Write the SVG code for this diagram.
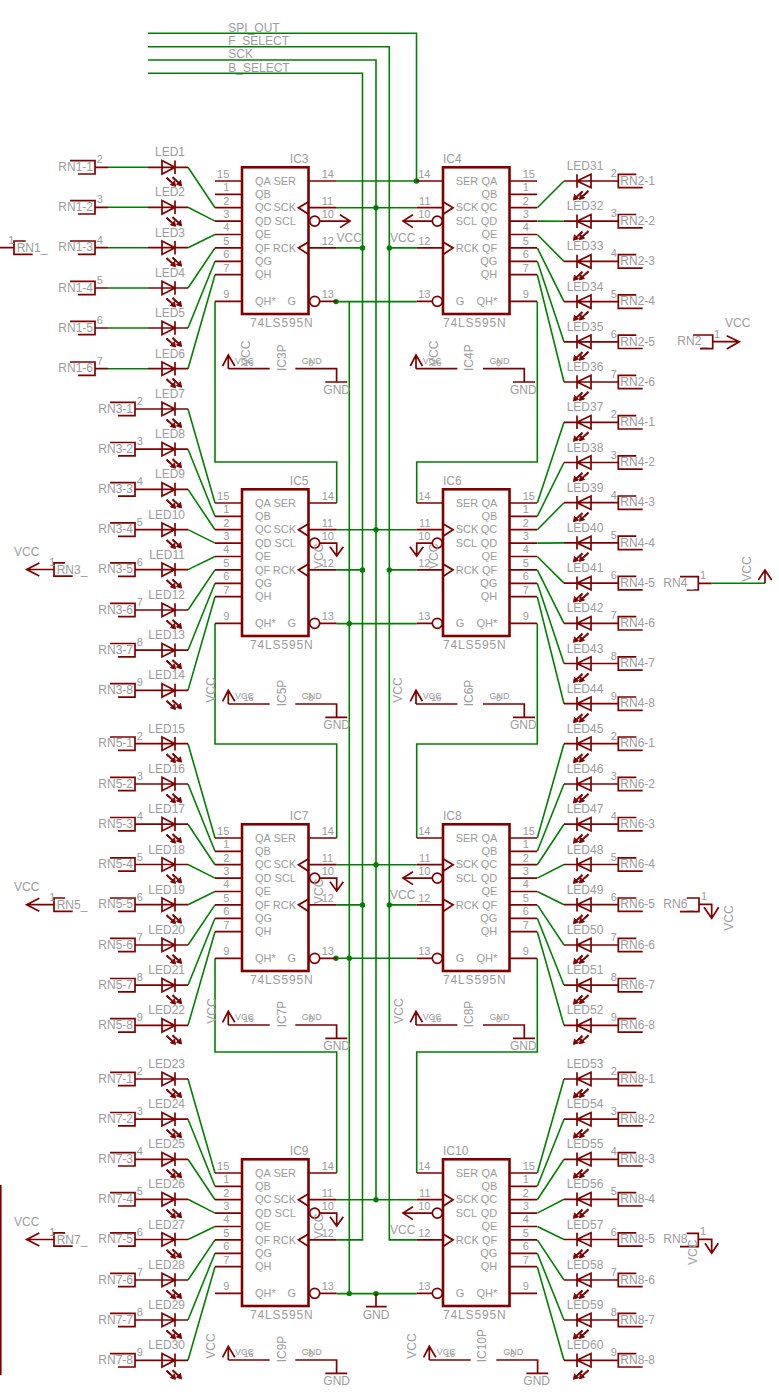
<svg xmlns="http://www.w3.org/2000/svg" width="779" height="1394" viewBox="0 0 779 1394">
<style>
text{font-family:"Liberation Sans",Arial,sans-serif;font-size:12px;fill:#9c9c9c}
.p{font-size:11px}
.e{text-anchor:end}
.n{letter-spacing:.85px}
.s{font-size:9px}
.r path,.r circle,.r rect{fill:none;stroke:#800000;stroke-width:1.7}
path.b,rect.b{stroke-width:2.6}
.g{fill:none;stroke:#008000;stroke-width:1.6}
.d{fill:#008000}
.f{fill:#800000!important;stroke-width:1!important}
</style>
<defs>
<g id="ledL" class="r"><path d="M148 0H188M162-6.700L175 0L162 6.700ZM175-6.700V6.700"/><path class="f" d="M167 10L173 15.500L174.500 13.500L175.500 19L170.500 17.500L172 16L166.500 11.500ZM173 9.500L179 15L180.500 13L181.500 18.500L176.500 17L178 15.500L172.500 11Z"/></g>
<g id="ledR" class="r"><path d="M564 0H591M591-6.700L577 0L591 6.700ZM577-6.700V6.700"/><path class="f" d="M582 10L576 15.500L574.500 13.500L573.500 19L578.500 17.500L577 16L582.500 11.500ZM588 9.500L582 15L580.500 13L579.500 18.500L584.500 17L583 15.500L588.500 11Z"/></g>
<g id="cL" class="r"><path d="M-25-6.700H0V6.700H-17M0 0H13"/></g>
<g id="cR" class="r"><path d="M18-6.700H0V6.700H24.400M0 0H-27.300"/></g>
<g id="icL" class="r"><rect class="b" x="0" y="0" width="66.500" height="146.700"/><path d="M-27 13.700H0M-27 27H0M-27 40.400H0M-27 53.800H0M-27 67.200H0M-27 80.600H0M-27 94H0M-27 107.400H0M-27 134H0M66.500 13.700H94.700M66.500 40.400H94.700M66.500 80.600H94.700M77.700 134H94.700"/><path class="b" d="M66.500 34.400L56.500 40.400L66.500 47M66.500 74.600L56.500 80.600L66.500 87.200" style="stroke-width:1.8"/><circle cx="72.700" cy="53.800" r="5"/><circle cx="72.700" cy="134" r="5"/></g>
<g id="icR" class="r"><rect class="b" x="0" y="0" width="66.500" height="146.700"/><path d="M66.500 13.700H94M66.500 27H94M66.500 40.400H94M66.500 53.800H94M66.500 67.200H94M66.500 80.600H94M66.500 94H94M66.500 107.400H94M66.500 134H94M-26.300 13.700H0M-26.300 40.400H0M-26.300 80.600H0M-26.300 134H-10.700"/><path class="b" d="M0 34.400L10 40.400L0 47M0 74.600L10 80.600L0 87.200" style="stroke-width:1.8"/><circle cx="-5.700" cy="53.800" r="5"/><circle cx="-5.700" cy="134" r="5"/></g>
<g id="pw" class="r"><path d="M0 0V-13.700M-5.700-2.700L0-13.700L6.500-2.700M0 0H41.400M67 0H108.300V13.300M97 13.300H119"/></g>
</defs>
<rect x="0" y="1185" width="1.600" height="190" fill="#800000"/>
<g id="connectors">
<path class="g" d="M148 33.300H416.500V181M336.700 181H416.500M148 46.700H389.300V1239.900H416.700M148 60H376V1199.700M148 73.300H362.500V1239.900H336.700M336.700 207.700H416.700M336.700 247.900H362.500M389.300 247.900H416.700M336.700 301.600H416.700M349.300 301.600V1293.600M336.700 529.700H416.700M336.700 569.900H362.500M389.300 569.900H416.700M336.700 623.600H416.700M336.700 864.700H416.700M336.700 904.900H362.500M389.300 904.900H416.700M336.700 958.300H416.700M336.700 1199.700H416.700M336.700 1293.600H416.700M215 301.600V462H336.700V503M537.300 301.600V462H416.700V503M215 623.600V744H336.700V838M537.300 623.600V744H416.700V838M215 958.300V1052H336.700V1173M537.300 958.300V1052H416.700V1173"/>
<path class="g" d="M108 167.300H148M108 207.300H148M108 247.700H148M108 288H148M108 328H148M108 368.700H148"/>
<path class="g" d="M188 167.300L215 207.700M188 207.300L215 221.100M188 247.700L215 234.500M188 288L215 247.900M188 328L215 261.300M188 368.700L215 274.700"/>
<path class="g" d="M188 409L215 503M188 449.200L215 516.300M188 489.400L215 529.700M188 529.600L215 543.100M188 569.600L215 556.500M188 610L215 569.900M188 650.200L215 583.300M188 690.400L215 596.700"/>
<path class="g" d="M188 743.700L215 838M188 784L215 851.300M188 824.200L215 864.700M188 864.500L215 878.100M188 904.700L215 891.500M188 945L215 904.900M188 985.200L215 918.300M188 1025.400L215 931.700"/>
<path class="g" d="M188 1079L215 1173M188 1119.200L215 1186.300M188 1159.300L215 1199.700M188 1199.300L215 1213.100M188 1239.500L215 1226.500M188 1280L215 1239.900M188 1320L215 1253.300M188 1360.300L215 1266.700"/>
<path class="g" d="M537.300 207.700L564 181M537.300 221.100L564 221.200M537.300 234.500L564 261.400M537.300 247.900L564 301.600M537.300 261.300L564 341.800M537.300 274.700L564 382"/>
<path class="g" d="M537.300 503L564 422.300M537.300 516.300L564 462.500M537.300 529.700L564 502.700M537.300 543.100L564 542.900M537.300 556.500L564 583.100M537.300 569.900L564 623.300M537.300 583.300L564 663.500M537.300 596.700L564 703.700"/>
<path class="g" d="M537.300 838L564 743.700M537.300 851.300L564 784M537.300 864.700L564 824.200M537.300 878.100L564 864.500M537.300 891.500L564 904.700M537.300 904.900L564 945M537.300 918.300L564 985.200M537.300 931.700L564 1025.400"/>
<path class="g" d="M537.300 1173L564 1079M537.300 1186.300L564 1119.200M537.300 1199.700L564 1159.300M537.300 1213.100L564 1199.300M537.300 1226.500L564 1239.500M537.300 1239.900L564 1280M537.300 1253.300L564 1320M537.300 1266.700L564 1360.300"/>
<path class="g" d="M711.700 583.300H765"/>
<g class="d"><circle cx="416.500" cy="181" r="2.700"/><circle cx="376" cy="207.700" r="2.700"/><circle cx="362.500" cy="247.900" r="2.700"/><circle cx="389.300" cy="247.900" r="2.700"/><circle cx="336" cy="301.600" r="2.700"/><circle cx="376" cy="529.700" r="2.700"/><circle cx="362.500" cy="569.900" r="2.700"/><circle cx="389.300" cy="569.900" r="2.700"/><circle cx="349.300" cy="623.600" r="2.700"/><circle cx="376" cy="864.700" r="2.700"/><circle cx="362.500" cy="904.900" r="2.700"/><circle cx="389.300" cy="904.900" r="2.700"/><circle cx="336" cy="958.300" r="2.700"/><circle cx="349.300" cy="958.300" r="2.700"/><circle cx="376" cy="1199.700" r="2.700"/><circle cx="349.300" cy="1293.600" r="2.700"/><circle cx="376" cy="1293.600" r="2.700"/></g>
<text x="228.300" y="31.700">SPI_OUT</text>
<text x="228.300" y="45">F_SELECT</text>
<text x="228.300" y="58.300">SCK</text>
<text x="228.300" y="72.300">B_SELECT</text>
</g>
<g id="IC3" transform="translate(242,167.300)"><use href="#icL"/><g class="r"><path d="M77.700 53.800H108M98 47.500L108 53.800L98 60.300"/></g><text x="94.500" y="74.400">VCC</text><text class="p" x="13" y="17.400">QA</text><text class="p" x="13" y="30.700">QB</text><text class="p" x="13" y="44.100">QC</text><text class="p" x="13" y="57.500">QD</text><text class="p" x="13" y="70.900">QE</text><text class="p" x="13" y="84.300">QF</text><text class="p" x="13" y="97.700">QG</text><text class="p" x="13" y="111.100">QH</text><text class="p" x="13" y="137.700">QH*</text><g class="e"><text class="p" x="54" y="17.400">SER</text><text class="p" x="54" y="44.100">SCK</text><text class="p" x="54" y="57.500">SCL</text><text class="p" x="54" y="84.300">RCK</text><text class="p" x="54" y="137.700">G</text><text class="p" x="-12.700" y="10.700">15</text><text class="p" x="-12.700" y="24">1</text><text class="p" x="-12.700" y="37.400">2</text><text class="p" x="-12.700" y="50.800">3</text><text class="p" x="-12.700" y="64.200">4</text><text class="p" x="-12.700" y="77.600">5</text><text class="p" x="-12.700" y="91">6</text><text class="p" x="-12.700" y="104.400">7</text><text class="p" x="-12.700" y="131">9</text><text x="66.500" y="-4.300">IC3</text></g><text class="p" x="79.700" y="10.700">14</text><text class="p" x="79.700" y="37.400">11</text><text class="p" x="79.700" y="50.800">10</text><text class="p" x="79.700" y="77.600">12</text><text class="p" x="79.700" y="131">13</text><text class="n" x="8" y="159.700">74LS595N</text></g>
<g id="IC5" transform="translate(242,489.300)"><use href="#icL"/><g class="r"><path d="M77.700 53.800H94.700V66.700M88 57.400L94.700 66.700L101.300 57.400"/></g><text transform="translate(81,79.700) rotate(-90)">VCC</text><text class="p" x="13" y="17.400">QA</text><text class="p" x="13" y="30.700">QB</text><text class="p" x="13" y="44.100">QC</text><text class="p" x="13" y="57.500">QD</text><text class="p" x="13" y="70.900">QE</text><text class="p" x="13" y="84.300">QF</text><text class="p" x="13" y="97.700">QG</text><text class="p" x="13" y="111.100">QH</text><text class="p" x="13" y="137.700">QH*</text><g class="e"><text class="p" x="54" y="17.400">SER</text><text class="p" x="54" y="44.100">SCK</text><text class="p" x="54" y="57.500">SCL</text><text class="p" x="54" y="84.300">RCK</text><text class="p" x="54" y="137.700">G</text><text class="p" x="-12.700" y="10.700">15</text><text class="p" x="-12.700" y="24">1</text><text class="p" x="-12.700" y="37.400">2</text><text class="p" x="-12.700" y="50.800">3</text><text class="p" x="-12.700" y="64.200">4</text><text class="p" x="-12.700" y="77.600">5</text><text class="p" x="-12.700" y="91">6</text><text class="p" x="-12.700" y="104.400">7</text><text class="p" x="-12.700" y="131">9</text><text x="66.500" y="-4.300">IC5</text></g><text class="p" x="79.700" y="10.700">14</text><text class="p" x="79.700" y="37.400">11</text><text class="p" x="79.700" y="50.800">10</text><text class="p" x="79.700" y="77.600">12</text><text class="p" x="79.700" y="131">13</text><text class="n" x="8" y="159.700">74LS595N</text></g>
<g id="IC7" transform="translate(242,824.300)"><use href="#icL"/><g class="r"><path d="M77.700 53.800H94.700V66.700M88 57.400L94.700 66.700L101.300 57.400"/></g><text transform="translate(81,79.700) rotate(-90)">VCC</text><text class="p" x="13" y="17.400">QA</text><text class="p" x="13" y="30.700">QB</text><text class="p" x="13" y="44.100">QC</text><text class="p" x="13" y="57.500">QD</text><text class="p" x="13" y="70.900">QE</text><text class="p" x="13" y="84.300">QF</text><text class="p" x="13" y="97.700">QG</text><text class="p" x="13" y="111.100">QH</text><text class="p" x="13" y="137.700">QH*</text><g class="e"><text class="p" x="54" y="17.400">SER</text><text class="p" x="54" y="44.100">SCK</text><text class="p" x="54" y="57.500">SCL</text><text class="p" x="54" y="84.300">RCK</text><text class="p" x="54" y="137.700">G</text><text class="p" x="-12.700" y="10.700">15</text><text class="p" x="-12.700" y="24">1</text><text class="p" x="-12.700" y="37.400">2</text><text class="p" x="-12.700" y="50.800">3</text><text class="p" x="-12.700" y="64.200">4</text><text class="p" x="-12.700" y="77.600">5</text><text class="p" x="-12.700" y="91">6</text><text class="p" x="-12.700" y="104.400">7</text><text class="p" x="-12.700" y="131">9</text><text x="66.500" y="-4.300">IC7</text></g><text class="p" x="79.700" y="10.700">14</text><text class="p" x="79.700" y="37.400">11</text><text class="p" x="79.700" y="50.800">10</text><text class="p" x="79.700" y="77.600">12</text><text class="p" x="79.700" y="131">13</text><text class="n" x="8" y="159.700">74LS595N</text></g>
<g id="IC9" transform="translate(242,1159.300)"><use href="#icL"/><g class="r"><path d="M77.700 53.800H94.700V66.700M88 57.400L94.700 66.700L101.300 57.400"/></g><text transform="translate(81,79.700) rotate(-90)">VCC</text><text class="p" x="13" y="17.400">QA</text><text class="p" x="13" y="30.700">QB</text><text class="p" x="13" y="44.100">QC</text><text class="p" x="13" y="57.500">QD</text><text class="p" x="13" y="70.900">QE</text><text class="p" x="13" y="84.300">QF</text><text class="p" x="13" y="97.700">QG</text><text class="p" x="13" y="111.100">QH</text><text class="p" x="13" y="137.700">QH*</text><g class="e"><text class="p" x="54" y="17.400">SER</text><text class="p" x="54" y="44.100">SCK</text><text class="p" x="54" y="57.500">SCL</text><text class="p" x="54" y="84.300">RCK</text><text class="p" x="54" y="137.700">G</text><text class="p" x="-12.700" y="10.700">15</text><text class="p" x="-12.700" y="24">1</text><text class="p" x="-12.700" y="37.400">2</text><text class="p" x="-12.700" y="50.800">3</text><text class="p" x="-12.700" y="64.200">4</text><text class="p" x="-12.700" y="77.600">5</text><text class="p" x="-12.700" y="91">6</text><text class="p" x="-12.700" y="104.400">7</text><text class="p" x="-12.700" y="131">9</text><text x="66.500" y="-4.300">IC9</text></g><text class="p" x="79.700" y="10.700">14</text><text class="p" x="79.700" y="37.400">11</text><text class="p" x="79.700" y="50.800">10</text><text class="p" x="79.700" y="77.600">12</text><text class="p" x="79.700" y="131">13</text><text class="n" x="8" y="159.700">74LS595N</text></g>
<g id="IC4" transform="translate(443,167.300)"><use href="#icR"/><g class="r"><path d="M-10.700 53.800H-40M-30 47.500L-40 53.800L-30 60.300"/></g><text x="-53" y="75">VCC</text><text class="p" x="12.700" y="17.400">SER</text><text class="p" x="12.700" y="44.100">SCK</text><text class="p" x="12.700" y="57.500">SCL</text><text class="p" x="12.700" y="84.300">RCK</text><text class="p" x="12.700" y="137.700">G</text><g class="e"><text class="p" x="54.300" y="17.400">QA</text><text class="p" x="54.300" y="30.700">QB</text><text class="p" x="54.300" y="44.100">QC</text><text class="p" x="54.300" y="57.500">QD</text><text class="p" x="54.300" y="70.900">QE</text><text class="p" x="54.300" y="84.300">QF</text><text class="p" x="54.300" y="97.700">QG</text><text class="p" x="54.300" y="111.100">QH</text><text class="p" x="54.300" y="137.700">QH*</text><text class="p" x="-12.500" y="10.700">14</text><text class="p" x="-12.500" y="37.400">11</text><text class="p" x="-12.500" y="50.800">10</text><text class="p" x="-12.500" y="77.600">12</text><text class="p" x="-12.500" y="131">13</text></g><text class="p" x="79.700" y="10.700">15</text><text class="p" x="79.700" y="24">1</text><text class="p" x="79.700" y="37.400">2</text><text class="p" x="79.700" y="50.800">3</text><text class="p" x="79.700" y="64.200">4</text><text class="p" x="79.700" y="77.600">5</text><text class="p" x="79.700" y="91">6</text><text class="p" x="79.700" y="104.400">7</text><text class="p" x="79.700" y="131">9</text><text x="0" y="-4.300">IC4</text><text class="n" x="0" y="159.700">74LS595N</text></g>
<g id="IC6" transform="translate(443,489.300)"><use href="#icR"/><g class="r"><path d="M-10.700 53.800H-26.300V66.700M-33 57.400L-26.300 66.700L-19.700 57.400"/></g><text transform="translate(-5,79.700) rotate(-90)">VCC</text><text class="p" x="12.700" y="17.400">SER</text><text class="p" x="12.700" y="44.100">SCK</text><text class="p" x="12.700" y="57.500">SCL</text><text class="p" x="12.700" y="84.300">RCK</text><text class="p" x="12.700" y="137.700">G</text><g class="e"><text class="p" x="54.300" y="17.400">QA</text><text class="p" x="54.300" y="30.700">QB</text><text class="p" x="54.300" y="44.100">QC</text><text class="p" x="54.300" y="57.500">QD</text><text class="p" x="54.300" y="70.900">QE</text><text class="p" x="54.300" y="84.300">QF</text><text class="p" x="54.300" y="97.700">QG</text><text class="p" x="54.300" y="111.100">QH</text><text class="p" x="54.300" y="137.700">QH*</text><text class="p" x="-12.500" y="10.700">14</text><text class="p" x="-12.500" y="37.400">11</text><text class="p" x="-12.500" y="50.800">10</text><text class="p" x="-12.500" y="77.600">12</text><text class="p" x="-12.500" y="131">13</text></g><text class="p" x="79.700" y="10.700">15</text><text class="p" x="79.700" y="24">1</text><text class="p" x="79.700" y="37.400">2</text><text class="p" x="79.700" y="50.800">3</text><text class="p" x="79.700" y="64.200">4</text><text class="p" x="79.700" y="77.600">5</text><text class="p" x="79.700" y="91">6</text><text class="p" x="79.700" y="104.400">7</text><text class="p" x="79.700" y="131">9</text><text x="0" y="-4.300">IC6</text><text class="n" x="0" y="159.700">74LS595N</text></g>
<g id="IC8" transform="translate(443,824.300)"><use href="#icR"/><g class="r"><path d="M-10.700 53.800H-40M-30 47.500L-40 53.800L-30 60.300"/></g><text x="-53" y="75">VCC</text><text class="p" x="12.700" y="17.400">SER</text><text class="p" x="12.700" y="44.100">SCK</text><text class="p" x="12.700" y="57.500">SCL</text><text class="p" x="12.700" y="84.300">RCK</text><text class="p" x="12.700" y="137.700">G</text><g class="e"><text class="p" x="54.300" y="17.400">QA</text><text class="p" x="54.300" y="30.700">QB</text><text class="p" x="54.300" y="44.100">QC</text><text class="p" x="54.300" y="57.500">QD</text><text class="p" x="54.300" y="70.900">QE</text><text class="p" x="54.300" y="84.300">QF</text><text class="p" x="54.300" y="97.700">QG</text><text class="p" x="54.300" y="111.100">QH</text><text class="p" x="54.300" y="137.700">QH*</text><text class="p" x="-12.500" y="10.700">14</text><text class="p" x="-12.500" y="37.400">11</text><text class="p" x="-12.500" y="50.800">10</text><text class="p" x="-12.500" y="77.600">12</text><text class="p" x="-12.500" y="131">13</text></g><text class="p" x="79.700" y="10.700">15</text><text class="p" x="79.700" y="24">1</text><text class="p" x="79.700" y="37.400">2</text><text class="p" x="79.700" y="50.800">3</text><text class="p" x="79.700" y="64.200">4</text><text class="p" x="79.700" y="77.600">5</text><text class="p" x="79.700" y="91">6</text><text class="p" x="79.700" y="104.400">7</text><text class="p" x="79.700" y="131">9</text><text x="0" y="-4.300">IC8</text><text class="n" x="0" y="159.700">74LS595N</text></g>
<g id="IC10" transform="translate(443,1159.300)"><use href="#icR"/><g class="r"><path d="M-10.700 53.800H-40M-30 47.500L-40 53.800L-30 60.300"/></g><text x="-53" y="75">VCC</text><text class="p" x="12.700" y="17.400">SER</text><text class="p" x="12.700" y="44.100">SCK</text><text class="p" x="12.700" y="57.500">SCL</text><text class="p" x="12.700" y="84.300">RCK</text><text class="p" x="12.700" y="137.700">G</text><g class="e"><text class="p" x="54.300" y="17.400">QA</text><text class="p" x="54.300" y="30.700">QB</text><text class="p" x="54.300" y="44.100">QC</text><text class="p" x="54.300" y="57.500">QD</text><text class="p" x="54.300" y="70.900">QE</text><text class="p" x="54.300" y="84.300">QF</text><text class="p" x="54.300" y="97.700">QG</text><text class="p" x="54.300" y="111.100">QH</text><text class="p" x="54.300" y="137.700">QH*</text><text class="p" x="-12.500" y="10.700">14</text><text class="p" x="-12.500" y="37.400">11</text><text class="p" x="-12.500" y="50.800">10</text><text class="p" x="-12.500" y="77.600">12</text><text class="p" x="-12.500" y="131">13</text></g><text class="p" x="79.700" y="10.700">15</text><text class="p" x="79.700" y="24">1</text><text class="p" x="79.700" y="37.400">2</text><text class="p" x="79.700" y="50.800">3</text><text class="p" x="79.700" y="64.200">4</text><text class="p" x="79.700" y="77.600">5</text><text class="p" x="79.700" y="91">6</text><text class="p" x="79.700" y="104.400">7</text><text class="p" x="79.700" y="131">9</text><text x="0" y="-4.300">IC10</text><text class="n" x="0" y="159.700">74LS595N</text></g>
<g id="IC3P" transform="translate(228.300,368.700)"><use href="#pw"/><text x="95" y="25.300">GND</text><text class="s" x="6.700" y="-4.700">VCC</text><text class="s" x="15.200" y="-2.700">16</text><text class="s" x="73.400" y="-4.700">GND</text><text class="s" x="80" y="-2.700">8</text><text transform="translate(57.200,2.300) rotate(-90)">IC3P</text><text transform="translate(21.700,-2.700) rotate(-90)">VCC</text></g>
<g id="IC4P" transform="translate(416,368.700)"><use href="#pw"/><text x="94" y="25.300">GND</text><text class="s" x="6.700" y="-4.700">VCC</text><text class="s" x="15.200" y="-2.700">16</text><text class="s" x="73.400" y="-4.700">GND</text><text class="s" x="80" y="-2.700">8</text><text transform="translate(56.700,2.300) rotate(-90)">IC4P</text><text transform="translate(22,-2.700) rotate(-90)">VCC</text></g>
<g id="IC5P" transform="translate(228.300,704)"><use href="#pw"/><text x="95" y="25.300">GND</text><text class="s" x="6.700" y="-4.700">VCC</text><text class="s" x="15.200" y="-2.700">16</text><text class="s" x="73.400" y="-4.700">GND</text><text class="s" x="80" y="-2.700">8</text><text transform="translate(57.200,2.300) rotate(-90)">IC5P</text><text transform="translate(-13.300,-1.300) rotate(-90)">VCC</text></g>
<g id="IC6P" transform="translate(416,704)"><use href="#pw"/><text x="94" y="25.300">GND</text><text class="s" x="6.700" y="-4.700">VCC</text><text class="s" x="15.200" y="-2.700">16</text><text class="s" x="73.400" y="-4.700">GND</text><text class="s" x="80" y="-2.700">8</text><text transform="translate(56.700,2.300) rotate(-90)">IC6P</text><text transform="translate(-13.700,-1.300) rotate(-90)">VCC</text></g>
<g id="IC7P" transform="translate(228.300,1025)"><use href="#pw"/><text x="95" y="25.300">GND</text><text class="s" x="6.700" y="-4.700">VCC</text><text class="s" x="15.200" y="-2.700">16</text><text class="s" x="73.400" y="-4.700">GND</text><text class="s" x="80" y="-2.700">8</text><text transform="translate(57.200,2.300) rotate(-90)">IC7P</text><text transform="translate(-12.600,-1.300) rotate(-90)">VCC</text></g>
<g id="IC8P" transform="translate(416,1025)"><use href="#pw"/><text x="94" y="25.300">GND</text><text class="s" x="6.700" y="-4.700">VCC</text><text class="s" x="15.200" y="-2.700">16</text><text class="s" x="73.400" y="-4.700">GND</text><text class="s" x="80" y="-2.700">8</text><text transform="translate(56.700,2.300) rotate(-90)">IC8P</text><text transform="translate(-13.300,-1.300) rotate(-90)">VCC</text></g>
<g id="IC9P" transform="translate(228.300,1360)"><use href="#pw"/><text x="95" y="25.300">GND</text><text class="s" x="6.700" y="-4.700">VCC</text><text class="s" x="15.200" y="-2.700">16</text><text class="s" x="73.400" y="-4.700">GND</text><text class="s" x="80" y="-2.700">8</text><text transform="translate(57.200,2.300) rotate(-90)">IC9P</text><text transform="translate(-13.300,-1.300) rotate(-90)">VCC</text></g>
<g id="IC10P" transform="translate(429.300,1360)"><use href="#pw"/><text x="94" y="25.300">GND</text><text class="s" x="7.400" y="-4.700">VCC</text><text class="s" x="15.700" y="-2.700">16</text><text class="s" x="74" y="-4.700">GND</text><text class="s" x="80.700" y="-2.700">8</text><text transform="translate(56.700,2.300) rotate(-90)">IC10P</text><text transform="translate(-13.300,-1.300) rotate(-90)">VCC</text></g>
<g id="GND1" class="r"><path d="M376 1293.600V1306.700M366 1306.700H386.700"/><text x="362.700" y="1319.300">GND</text></g>
<g id="LED1" transform="translate(0,167.300)"><use href="#ledL"/><text class="e" x="185" y="-11">LED1</text></g>
<g id="LED2" transform="translate(0,207.300)"><use href="#ledL"/><text class="e" x="185" y="-11">LED2</text></g>
<g id="LED3" transform="translate(0,247.700)"><use href="#ledL"/><text class="e" x="185" y="-11">LED3</text></g>
<g id="LED4" transform="translate(0,288)"><use href="#ledL"/><text class="e" x="185" y="-11">LED4</text></g>
<g id="LED5" transform="translate(0,328)"><use href="#ledL"/><text class="e" x="185" y="-11">LED5</text></g>
<g id="LED6" transform="translate(0,368.700)"><use href="#ledL"/><text class="e" x="185" y="-11">LED6</text></g>
<g id="LED7" transform="translate(0,409)"><use href="#ledL"/><text class="e" x="185" y="-11">LED7</text></g>
<g id="LED8" transform="translate(0,449.200)"><use href="#ledL"/><text class="e" x="185" y="-11">LED8</text></g>
<g id="LED9" transform="translate(0,489.400)"><use href="#ledL"/><text class="e" x="185" y="-11">LED9</text></g>
<g id="LED10" transform="translate(0,529.600)"><use href="#ledL"/><text class="e" x="185" y="-11">LED10</text></g>
<g id="LED11" transform="translate(0,569.600)"><use href="#ledL"/><text class="e" x="185" y="-11">LED11</text></g>
<g id="LED12" transform="translate(0,610)"><use href="#ledL"/><text class="e" x="185" y="-11">LED12</text></g>
<g id="LED13" transform="translate(0,650.200)"><use href="#ledL"/><text class="e" x="185" y="-11">LED13</text></g>
<g id="LED14" transform="translate(0,690.400)"><use href="#ledL"/><text class="e" x="185" y="-11">LED14</text></g>
<g id="LED15" transform="translate(0,743.700)"><use href="#ledL"/><text class="e" x="185" y="-11">LED15</text></g>
<g id="LED16" transform="translate(0,784)"><use href="#ledL"/><text class="e" x="185" y="-11">LED16</text></g>
<g id="LED17" transform="translate(0,824.200)"><use href="#ledL"/><text class="e" x="185" y="-11">LED17</text></g>
<g id="LED18" transform="translate(0,864.500)"><use href="#ledL"/><text class="e" x="185" y="-11">LED18</text></g>
<g id="LED19" transform="translate(0,904.700)"><use href="#ledL"/><text class="e" x="185" y="-11">LED19</text></g>
<g id="LED20" transform="translate(0,945)"><use href="#ledL"/><text class="e" x="185" y="-11">LED20</text></g>
<g id="LED21" transform="translate(0,985.200)"><use href="#ledL"/><text class="e" x="185" y="-11">LED21</text></g>
<g id="LED22" transform="translate(0,1025.400)"><use href="#ledL"/><text class="e" x="185" y="-11">LED22</text></g>
<g id="LED23" transform="translate(0,1079)"><use href="#ledL"/><text class="e" x="185" y="-11">LED23</text></g>
<g id="LED24" transform="translate(0,1119.200)"><use href="#ledL"/><text class="e" x="185" y="-11">LED24</text></g>
<g id="LED25" transform="translate(0,1159.300)"><use href="#ledL"/><text class="e" x="185" y="-11">LED25</text></g>
<g id="LED26" transform="translate(0,1199.300)"><use href="#ledL"/><text class="e" x="185" y="-11">LED26</text></g>
<g id="LED27" transform="translate(0,1239.500)"><use href="#ledL"/><text class="e" x="185" y="-11">LED27</text></g>
<g id="LED28" transform="translate(0,1280)"><use href="#ledL"/><text class="e" x="185" y="-11">LED28</text></g>
<g id="LED29" transform="translate(0,1320)"><use href="#ledL"/><text class="e" x="185" y="-11">LED29</text></g>
<g id="LED30" transform="translate(0,1360.300)"><use href="#ledL"/><text class="e" x="185" y="-11">LED30</text></g>
<g id="LED31" transform="translate(0,181)"><use href="#ledR"/><text x="566.700" y="-11">LED31</text></g>
<g id="LED32" transform="translate(0,221.200)"><use href="#ledR"/><text x="566.700" y="-11">LED32</text></g>
<g id="LED33" transform="translate(0,261.400)"><use href="#ledR"/><text x="566.700" y="-11">LED33</text></g>
<g id="LED34" transform="translate(0,301.600)"><use href="#ledR"/><text x="566.700" y="-11">LED34</text></g>
<g id="LED35" transform="translate(0,341.800)"><use href="#ledR"/><text x="566.700" y="-11">LED35</text></g>
<g id="LED36" transform="translate(0,382)"><use href="#ledR"/><text x="566.700" y="-11">LED36</text></g>
<g id="LED37" transform="translate(0,422.300)"><use href="#ledR"/><text x="566.700" y="-11">LED37</text></g>
<g id="LED38" transform="translate(0,462.500)"><use href="#ledR"/><text x="566.700" y="-11">LED38</text></g>
<g id="LED39" transform="translate(0,502.700)"><use href="#ledR"/><text x="566.700" y="-11">LED39</text></g>
<g id="LED40" transform="translate(0,542.900)"><use href="#ledR"/><text x="566.700" y="-11">LED40</text></g>
<g id="LED41" transform="translate(0,583.100)"><use href="#ledR"/><text x="566.700" y="-11">LED41</text></g>
<g id="LED42" transform="translate(0,623.300)"><use href="#ledR"/><text x="566.700" y="-11">LED42</text></g>
<g id="LED43" transform="translate(0,663.500)"><use href="#ledR"/><text x="566.700" y="-11">LED43</text></g>
<g id="LED44" transform="translate(0,703.700)"><use href="#ledR"/><text x="566.700" y="-11">LED44</text></g>
<g id="LED45" transform="translate(0,743.700)"><use href="#ledR"/><text x="566.700" y="-11">LED45</text></g>
<g id="LED46" transform="translate(0,784)"><use href="#ledR"/><text x="566.700" y="-11">LED46</text></g>
<g id="LED47" transform="translate(0,824.200)"><use href="#ledR"/><text x="566.700" y="-11">LED47</text></g>
<g id="LED48" transform="translate(0,864.500)"><use href="#ledR"/><text x="566.700" y="-11">LED48</text></g>
<g id="LED49" transform="translate(0,904.700)"><use href="#ledR"/><text x="566.700" y="-11">LED49</text></g>
<g id="LED50" transform="translate(0,945)"><use href="#ledR"/><text x="566.700" y="-11">LED50</text></g>
<g id="LED51" transform="translate(0,985.200)"><use href="#ledR"/><text x="566.700" y="-11">LED51</text></g>
<g id="LED52" transform="translate(0,1025.400)"><use href="#ledR"/><text x="566.700" y="-11">LED52</text></g>
<g id="LED53" transform="translate(0,1079)"><use href="#ledR"/><text x="566.700" y="-11">LED53</text></g>
<g id="LED54" transform="translate(0,1119.200)"><use href="#ledR"/><text x="566.700" y="-11">LED54</text></g>
<g id="LED55" transform="translate(0,1159.300)"><use href="#ledR"/><text x="566.700" y="-11">LED55</text></g>
<g id="LED56" transform="translate(0,1199.300)"><use href="#ledR"/><text x="566.700" y="-11">LED56</text></g>
<g id="LED57" transform="translate(0,1239.500)"><use href="#ledR"/><text x="566.700" y="-11">LED57</text></g>
<g id="LED58" transform="translate(0,1280)"><use href="#ledR"/><text x="566.700" y="-11">LED58</text></g>
<g id="LED59" transform="translate(0,1320)"><use href="#ledR"/><text x="566.700" y="-11">LED59</text></g>
<g id="LED60" transform="translate(0,1360.300)"><use href="#ledR"/><text x="566.700" y="-11">LED60</text></g>
<g id="RN1-1" transform="translate(95,167.300)"><use href="#cL"/><text class="e" x="-2" y="3.700">RN1-1</text><text class="p" x="1.700" y="-4">2</text></g>
<g id="RN1-2" transform="translate(95,207.300)"><use href="#cL"/><text class="e" x="-2" y="3.700">RN1-2</text><text class="p" x="1.700" y="-4">3</text></g>
<g id="RN1-3" transform="translate(95,247.700)"><use href="#cL"/><text class="e" x="-2" y="3.700">RN1-3</text><text class="p" x="1.700" y="-4">4</text></g>
<g id="RN1-4" transform="translate(95,288)"><use href="#cL"/><text class="e" x="-2" y="3.700">RN1-4</text><text class="p" x="1.700" y="-4">5</text></g>
<g id="RN1-5" transform="translate(95,328)"><use href="#cL"/><text class="e" x="-2" y="3.700">RN1-5</text><text class="p" x="1.700" y="-4">6</text></g>
<g id="RN1-6" transform="translate(95,368.700)"><use href="#cL"/><text class="e" x="-2" y="3.700">RN1-6</text><text class="p" x="1.700" y="-4">7</text></g>
<g id="RN3-1" transform="translate(135,409)"><use href="#cL"/><text class="e" x="-2" y="3.700">RN3-1</text><text class="p" x="1.700" y="-4">2</text></g>
<g id="RN3-2" transform="translate(135,449.200)"><use href="#cL"/><text class="e" x="-2" y="3.700">RN3-2</text><text class="p" x="1.700" y="-4">3</text></g>
<g id="RN3-3" transform="translate(135,489.400)"><use href="#cL"/><text class="e" x="-2" y="3.700">RN3-3</text><text class="p" x="1.700" y="-4">4</text></g>
<g id="RN3-4" transform="translate(135,529.600)"><use href="#cL"/><text class="e" x="-2" y="3.700">RN3-4</text><text class="p" x="1.700" y="-4">5</text></g>
<g id="RN3-5" transform="translate(135,569.600)"><use href="#cL"/><text class="e" x="-2" y="3.700">RN3-5</text><text class="p" x="1.700" y="-4">6</text></g>
<g id="RN3-6" transform="translate(135,610)"><use href="#cL"/><text class="e" x="-2" y="3.700">RN3-6</text><text class="p" x="1.700" y="-4">7</text></g>
<g id="RN3-7" transform="translate(135,650.200)"><use href="#cL"/><text class="e" x="-2" y="3.700">RN3-7</text><text class="p" x="1.700" y="-4">8</text></g>
<g id="RN3-8" transform="translate(135,690.400)"><use href="#cL"/><text class="e" x="-2" y="3.700">RN3-8</text><text class="p" x="1.700" y="-4">9</text></g>
<g id="RN5-1" transform="translate(135,743.700)"><use href="#cL"/><text class="e" x="-2" y="3.700">RN5-1</text><text class="p" x="1.700" y="-4">2</text></g>
<g id="RN5-2" transform="translate(135,784)"><use href="#cL"/><text class="e" x="-2" y="3.700">RN5-2</text><text class="p" x="1.700" y="-4">3</text></g>
<g id="RN5-3" transform="translate(135,824.200)"><use href="#cL"/><text class="e" x="-2" y="3.700">RN5-3</text><text class="p" x="1.700" y="-4">4</text></g>
<g id="RN5-4" transform="translate(135,864.500)"><use href="#cL"/><text class="e" x="-2" y="3.700">RN5-4</text><text class="p" x="1.700" y="-4">5</text></g>
<g id="RN5-5" transform="translate(135,904.700)"><use href="#cL"/><text class="e" x="-2" y="3.700">RN5-5</text><text class="p" x="1.700" y="-4">6</text></g>
<g id="RN5-6" transform="translate(135,945)"><use href="#cL"/><text class="e" x="-2" y="3.700">RN5-6</text><text class="p" x="1.700" y="-4">7</text></g>
<g id="RN5-7" transform="translate(135,985.200)"><use href="#cL"/><text class="e" x="-2" y="3.700">RN5-7</text><text class="p" x="1.700" y="-4">8</text></g>
<g id="RN5-8" transform="translate(135,1025.400)"><use href="#cL"/><text class="e" x="-2" y="3.700">RN5-8</text><text class="p" x="1.700" y="-4">9</text></g>
<g id="RN7-1" transform="translate(135,1079)"><use href="#cL"/><text class="e" x="-2" y="3.700">RN7-1</text><text class="p" x="1.700" y="-4">2</text></g>
<g id="RN7-2" transform="translate(135,1119.200)"><use href="#cL"/><text class="e" x="-2" y="3.700">RN7-2</text><text class="p" x="1.700" y="-4">3</text></g>
<g id="RN7-3" transform="translate(135,1159.300)"><use href="#cL"/><text class="e" x="-2" y="3.700">RN7-3</text><text class="p" x="1.700" y="-4">4</text></g>
<g id="RN7-4" transform="translate(135,1199.300)"><use href="#cL"/><text class="e" x="-2" y="3.700">RN7-4</text><text class="p" x="1.700" y="-4">5</text></g>
<g id="RN7-5" transform="translate(135,1239.500)"><use href="#cL"/><text class="e" x="-2" y="3.700">RN7-5</text><text class="p" x="1.700" y="-4">6</text></g>
<g id="RN7-6" transform="translate(135,1280)"><use href="#cL"/><text class="e" x="-2" y="3.700">RN7-6</text><text class="p" x="1.700" y="-4">7</text></g>
<g id="RN7-7" transform="translate(135,1320)"><use href="#cL"/><text class="e" x="-2" y="3.700">RN7-7</text><text class="p" x="1.700" y="-4">8</text></g>
<g id="RN7-8" transform="translate(135,1360.300)"><use href="#cL"/><text class="e" x="-2" y="3.700">RN7-8</text><text class="p" x="1.700" y="-4">9</text></g>
<g id="RN2-1" transform="translate(618.300,181)"><use href="#cR"/><text x="2" y="3.700">RN2-1</text><text class="p" x="-7.600" y="-4">2</text></g>
<g id="RN2-2" transform="translate(618.300,221.200)"><use href="#cR"/><text x="2" y="3.700">RN2-2</text><text class="p" x="-7.600" y="-4">3</text></g>
<g id="RN2-3" transform="translate(618.300,261.400)"><use href="#cR"/><text x="2" y="3.700">RN2-3</text><text class="p" x="-7.600" y="-4">4</text></g>
<g id="RN2-4" transform="translate(618.300,301.600)"><use href="#cR"/><text x="2" y="3.700">RN2-4</text><text class="p" x="-7.600" y="-4">5</text></g>
<g id="RN2-5" transform="translate(618.300,341.800)"><use href="#cR"/><text x="2" y="3.700">RN2-5</text><text class="p" x="-7.600" y="-4">6</text></g>
<g id="RN2-6" transform="translate(618.300,382)"><use href="#cR"/><text x="2" y="3.700">RN2-6</text><text class="p" x="-7.600" y="-4">7</text></g>
<g id="RN4-1" transform="translate(618.300,422.300)"><use href="#cR"/><text x="2" y="3.700">RN4-1</text><text class="p" x="-7.600" y="-4">2</text></g>
<g id="RN4-2" transform="translate(618.300,462.500)"><use href="#cR"/><text x="2" y="3.700">RN4-2</text><text class="p" x="-7.600" y="-4">3</text></g>
<g id="RN4-3" transform="translate(618.300,502.700)"><use href="#cR"/><text x="2" y="3.700">RN4-3</text><text class="p" x="-7.600" y="-4">4</text></g>
<g id="RN4-4" transform="translate(618.300,542.900)"><use href="#cR"/><text x="2" y="3.700">RN4-4</text><text class="p" x="-7.600" y="-4">5</text></g>
<g id="RN4-5" transform="translate(618.300,583.100)"><use href="#cR"/><text x="2" y="3.700">RN4-5</text><text class="p" x="-7.600" y="-4">6</text></g>
<g id="RN4-6" transform="translate(618.300,623.300)"><use href="#cR"/><text x="2" y="3.700">RN4-6</text><text class="p" x="-7.600" y="-4">7</text></g>
<g id="RN4-7" transform="translate(618.300,663.500)"><use href="#cR"/><text x="2" y="3.700">RN4-7</text><text class="p" x="-7.600" y="-4">8</text></g>
<g id="RN4-8" transform="translate(618.300,703.700)"><use href="#cR"/><text x="2" y="3.700">RN4-8</text><text class="p" x="-7.600" y="-4">9</text></g>
<g id="RN6-1" transform="translate(618.300,743.700)"><use href="#cR"/><text x="2" y="3.700">RN6-1</text><text class="p" x="-7.600" y="-4">2</text></g>
<g id="RN6-2" transform="translate(618.300,784)"><use href="#cR"/><text x="2" y="3.700">RN6-2</text><text class="p" x="-7.600" y="-4">3</text></g>
<g id="RN6-3" transform="translate(618.300,824.200)"><use href="#cR"/><text x="2" y="3.700">RN6-3</text><text class="p" x="-7.600" y="-4">4</text></g>
<g id="RN6-4" transform="translate(618.300,864.500)"><use href="#cR"/><text x="2" y="3.700">RN6-4</text><text class="p" x="-7.600" y="-4">5</text></g>
<g id="RN6-5" transform="translate(618.300,904.700)"><use href="#cR"/><text x="2" y="3.700">RN6-5</text><text class="p" x="-7.600" y="-4">6</text></g>
<g id="RN6-6" transform="translate(618.300,945)"><use href="#cR"/><text x="2" y="3.700">RN6-6</text><text class="p" x="-7.600" y="-4">7</text></g>
<g id="RN6-7" transform="translate(618.300,985.200)"><use href="#cR"/><text x="2" y="3.700">RN6-7</text><text class="p" x="-7.600" y="-4">8</text></g>
<g id="RN6-8" transform="translate(618.300,1025.400)"><use href="#cR"/><text x="2" y="3.700">RN6-8</text><text class="p" x="-7.600" y="-4">9</text></g>
<g id="RN8-1" transform="translate(618.300,1079)"><use href="#cR"/><text x="2" y="3.700">RN8-1</text><text class="p" x="-7.600" y="-4">2</text></g>
<g id="RN8-2" transform="translate(618.300,1119.200)"><use href="#cR"/><text x="2" y="3.700">RN8-2</text><text class="p" x="-7.600" y="-4">3</text></g>
<g id="RN8-3" transform="translate(618.300,1159.300)"><use href="#cR"/><text x="2" y="3.700">RN8-3</text><text class="p" x="-7.600" y="-4">4</text></g>
<g id="RN8-4" transform="translate(618.300,1199.300)"><use href="#cR"/><text x="2" y="3.700">RN8-4</text><text class="p" x="-7.600" y="-4">5</text></g>
<g id="RN8-5" transform="translate(618.300,1239.500)"><use href="#cR"/><text x="2" y="3.700">RN8-5</text><text class="p" x="-7.600" y="-4">6</text></g>
<g id="RN8-6" transform="translate(618.300,1280)"><use href="#cR"/><text x="2" y="3.700">RN8-6</text><text class="p" x="-7.600" y="-4">7</text></g>
<g id="RN8-7" transform="translate(618.300,1320)"><use href="#cR"/><text x="2" y="3.700">RN8-7</text><text class="p" x="-7.600" y="-4">8</text></g>
<g id="RN8-8" transform="translate(618.300,1360.300)"><use href="#cR"/><text x="2" y="3.700">RN8-8</text><text class="p" x="-7.600" y="-4">9</text></g>
<g id="RN1_" transform="translate(14,247.700)"><g class="r"><path d="M0 0H-14M11.700-6.700H0V6.700H18.700"/></g><text x="2.700" y="4">RN1_</text><text class="p" x="-5.700" y="-4">1</text></g>
<g id="RN3_" transform="translate(54,569.500)"><g class="r"><path d="M0 0H-27.300M-14.700-6.500L-27.300 0L-14.700 6.500M11 -6.700H0V6.700H18.700"/></g><text x="2.700" y="4">RN3_</text><text class="p" x="-4.700" y="-4">1</text><text x="-40" y="-13.500">VCC</text></g>
<g id="RN5_" transform="translate(54,904.700)"><g class="r"><path d="M0 0H-27.300M-14.700-6.500L-27.300 0L-14.700 6.500M11 -6.700H0V6.700H18.700"/></g><text x="2.700" y="4">RN5_</text><text class="p" x="-4.700" y="-4">1</text><text x="-40" y="-13.500">VCC</text></g>
<g id="RN7_" transform="translate(54,1239.500)"><g class="r"><path d="M0 0H-27.300M-14.700-6.500L-27.300 0L-14.700 6.500M11 -6.700H0V6.700H18.700"/></g><text x="2.700" y="4">RN7_</text><text class="p" x="-4.700" y="-4">1</text><text x="-40" y="-13.500">VCC</text></g>
<g id="RN2_" transform="translate(712.700,341.700)"><g class="r"><path d="M0 0H26.600M14-6L26.600 0L14 7.300M-19.700-6.700H0V7H-12.700"/></g><text x="-35.400" y="3.700">RN2_</text><text class="p" x="1.300" y="-4">1</text><text x="12.300" y="-14.400">VCC</text></g>
<g id="RN4_" transform="translate(698.300,583.300)"><g class="r"><path d="M0 0H13.400M66.700 0V-13.300M60-3.300L66.700-13.300L73.400-3.300M-18.300-6.700H0V6.700H-11.600"/></g><text x="-35" y="3.700">RN4_</text><text class="p" x="1.700" y="-4">1</text><text transform="translate(52.400,-1.600) rotate(-90)">VCC</text></g>
<g id="RN6_" transform="translate(699,904.300)"><g class="r"><path d="M0 0H12.700V14M5 3L12.700 14L19.700 3M-12.300-6.300H0V7.400H-19"/></g><text x="-35.700" y="3.700">RN6_</text><text class="p" x="2" y="-4">1</text><text transform="translate(34,26.400) rotate(-90)">VCC</text></g>
<g id="RN8_" transform="translate(698.300,1239.300)"><g class="r"><path d="M0 0H13.400V14M6.700 4L13.400 14L20 4M-11.600-6H0V7.400H-18.300"/></g><text x="-35" y="3.700">RN8_</text><text class="p" x="1.700" y="-4">1</text><text transform="translate(-1.600,25.700) rotate(-90)">VCC</text></g>
</svg>
